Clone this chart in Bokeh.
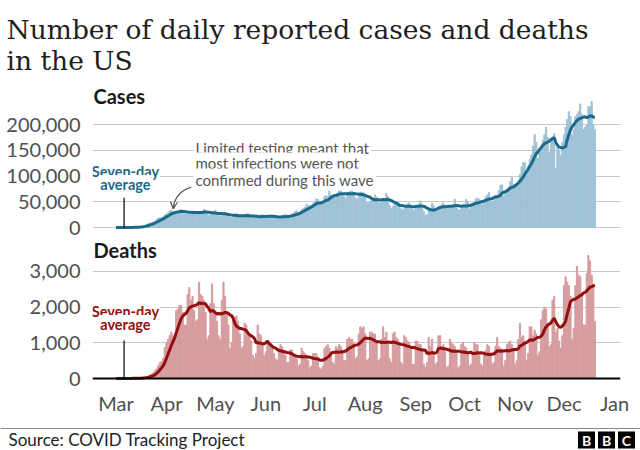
import pandas as pd
from bokeh.plotting import figure
from bokeh.layouts import column, row
from bokeh.models import (Range1d, FixedTicker, NumeralTickFormatter, Label, Span,
                          Arrow, OpenHead, ColumnDataSource, Title)
from bokeh.embed import file_html
from bokeh.resources import INLINE
from bokeh.core.properties import value

# ---------------- data (daily, 1 Mar 2020 -> 20 Dec 2020) ----------------
start_date = "2020-03-01"
cases_daily = [
    10, 15, 25, 40, 70, 100, 150,
    200, 250, 300, 450, 550, 750, 1000,
    1200, 1800, 2400, 3500, 4800, 6200, 7500,
    8800, 9800, 10500, 12000, 16500, 18000, 19500,
    19000, 21000, 24500, 26500, 28500, 32000, 34000,
    27000, 28500, 30500, 31500, 32500, 35000, 32000,
    27500, 25500, 27000, 29500, 30500, 32000, 31500,
    27000, 26000, 27500, 28500, 31500, 35500, 33500,
    26500, 23000, 24500, 27000, 29500, 33000, 29500,
    25000, 22500, 23500, 24000, 28500, 28500, 26000,
    20500, 18500, 21500, 21500, 27500, 25500, 25000,
    19500, 20500, 21000, 22500, 27000, 24500, 23000,
    19000, 19500, 18500, 20000, 21500, 24500, 25000,
    20000, 21000, 19500, 21500, 22000, 24500, 22500,
    17500, 17000, 19000, 21500, 23000, 24000, 25500,
    19000, 18500, 23000, 26000, 28000, 31500, 32500,
    26500, 27500, 34500, 37500, 39500, 45500, 43000,
    41000, 40000, 47000, 51000, 55500, 54500, 44500,
    45000, 46500, 60000, 62000, 59500, 71500, 63000,
    59000, 58500, 63000, 66500, 75500, 72000, 64000,
    61000, 56000, 64000, 69000, 72000, 72500, 66500,
    57500, 55000, 60000, 68000, 68500, 67500, 59500,
    48500, 47500, 50500, 53500, 53500, 63500, 59000,
    48500, 47000, 52000, 56500, 52000, 66000, 60000,
    42500, 36500, 40500, 44500, 45500, 48000, 46500,
    36500, 34000, 37000, 40500, 45500, 48000, 43500,
    35000, 33500, 40000, 42000, 46000, 51500, 43000,
    31000, 23500, 25000, 33000, 36000, 47000, 42000,
    34500, 34000, 39000, 39000, 44000, 48000, 43500,
    36000, 39000, 39500, 39000, 45000, 55000, 45000,
    35000, 33000, 37500, 43000, 45000, 54500, 49000,
    35000, 41500, 44000, 50000, 56000, 57000, 54500,
    46000, 44500, 52500, 59500, 63500, 68500, 56000,
    48500, 58000, 62000, 61000, 72000, 82000, 83000,
    61000, 67000, 73000, 78000, 89000, 97000, 84000,
    80000, 85000, 91000, 103000, 118000, 126000, 126000,
    110000, 118000, 132000, 141000, 158000, 180000, 165000,
    134000, 150000, 158000, 170000, 180000, 195000, 175000,
    145000, 170000, 175000, 182000, 115000, 155000, 150000,
    140000, 165000, 180000, 195000, 210000, 225000, 215000,
    180000, 190000, 215000, 220000, 225000, 240000, 220000,
    190000, 195000, 200000, 235000, 235000, 245000, 200000,
    190000,
]
deaths_daily = [
    0, 1, 3, 2, 1, 2, 4,
    3, 4, 5, 6, 8, 9, 10,
    12, 15, 25, 30, 45, 50, 70,
    100, 130, 160, 230, 270, 360, 450,
    470, 560, 870, 1000, 1100, 1200, 1300,
    1200, 1250, 1900, 1950, 2050, 2050, 1850,
    1500, 1500, 2350, 2550, 2200, 2300, 1900,
    1600, 1650, 2700, 2350, 2300, 2200, 1850,
    1100, 1200, 2100, 2650, 2100, 1900, 1600,
    1200, 1100, 2200, 2700, 2300, 1800, 1500,
    850, 1000, 1650, 1700, 1750, 1600, 1250,
    850, 900, 1550, 1500, 1300, 1250, 1050,
    650, 550, 700, 1500, 1250, 1200, 950,
    650, 750, 1050, 1000, 1000, 900, 700,
    550, 500, 850, 950, 900, 800, 650,
    450, 450, 800, 800, 700, 650, 550,
    350, 400, 850, 750, 700, 650, 500,
    300, 350, 700, 700, 700, 600, 300,
    250, 350, 850, 900, 950, 850, 750,
    450, 400, 900, 850, 950, 900, 800,
    500, 500, 1100, 1150, 1100, 1100, 1000,
    550, 600, 1250, 1450, 1400, 1450, 1250,
    500, 550, 1300, 1300, 1250, 1250, 1050,
    500, 550, 1100, 1450, 1150, 1300, 1050,
    550, 450, 1250, 1300, 1150, 1100, 1000,
    450, 400, 1200, 1150, 1050, 1000, 900,
    400, 400, 1050, 1050, 950, 950, 800,
    400, 300, 450, 1150, 900, 1100, 700,
    400, 450, 1200, 1200, 900, 950, 750,
    300, 350, 1100, 1000, 950, 900, 750,
    300, 350, 950, 1000, 900, 850, 700,
    350, 400, 700, 1000, 950, 950, 650,
    400, 350, 650, 800, 950, 900, 700,
    400, 450, 900, 1150, 900, 850, 800,
    350, 500, 950, 1000, 1050, 950, 850,
    400, 500, 1100, 1550, 1150, 1200, 1050,
    500, 700, 1450, 1450, 1200, 1350, 1250,
    650, 750, 1650, 1900, 2000, 1950, 1550,
    900, 950, 2200, 2300, 1300, 1400, 1050,
    850, 1200, 2600, 2850, 2700, 2600, 2300,
    1100, 1400, 2600, 3150, 2900, 2850, 2400,
    1500, 1500, 2950, 3450, 3300, 2900, 2600,
    1600,
]
month_starts = ["2020-03-01", "2020-04-01", "2020-05-01", "2020-06-01", "2020-07-01",
                "2020-08-01", "2020-09-01", "2020-10-01", "2020-11-01", "2020-12-01",
                "2021-01-01"]
month_labels = ["Mar", "Apr", "May", "Jun", "Jul", "Aug", "Sep", "Oct", "Nov", "Dec", "Jan"]
case_ticks = [0, 50000, 100000, 150000, 200000]
death_ticks = [0, 1000, 2000, 3000]

# ---------------- derived ----------------
t0 = pd.Timestamp(start_date)
day = list(range(len(cases_daily)))
cases_avg = pd.Series(cases_daily).rolling(7, min_periods=1).mean().tolist()
deaths_avg = pd.Series(deaths_daily).rolling(7, min_periods=1).mean().tolist()
month_pos = [(pd.Timestamp(m) - t0).days for m in month_starts]

src = ColumnDataSource(dict(day=day, cases=cases_daily, cavg=cases_avg,
                            deaths=deaths_daily, davg=deaths_avg))

SANS = "Lato"
GRID = "#c9c9c9"
TICK = "#505050"
C_BAR, C_LINE = "#9fc2d6", "#1b6a8b"
D_BAR, D_LINE = "#d69c9f", "#920f0f"
LEFT, RIGHT = 92, 20

xr = Range1d(-14.4, 309.7)


def base_fig(h, yr, top=0, bottom=0, xaxis=False):
    f = figure(width=640, height=h, x_range=xr, y_range=yr, title=None,
               output_backend="svg", toolbar_location=None,
               x_axis_location="below" if xaxis else None,
               min_border_left=LEFT, min_border_right=RIGHT,
               min_border_top=top, min_border_bottom=bottom)
    f.outline_line_color = None
    f.background_fill_color = "white"
    f.border_fill_color = "white"
    f.xgrid.visible = False
    return f


def style_y(f, ticks):
    tk = FixedTicker(ticks=ticks)
    f.yaxis.ticker = tk
    f.ygrid.ticker = tk
    f.yaxis.formatter = NumeralTickFormatter(format="0,0")
    f.yaxis.axis_line_color = None
    f.yaxis.major_tick_line_color = None
    f.yaxis.minor_tick_line_color = None
    f.yaxis.major_tick_out = 0
    f.yaxis.major_tick_in = 0
    f.yaxis.major_label_text_font = SANS
    f.yaxis.major_label_text_font_size = "20px"
    f.yaxis.major_label_text_color = TICK
    f.yaxis.major_label_standoff = 12
    f.ygrid.grid_line_color = GRID
    f.ygrid.grid_line_width = 1


# ---------------- cases (with the chart title in its top border) ----------------
CPX = 0.000515  # px per case
pc = base_fig(238, Range1d(-11.0 / CPX, 147.0 / CPX), top=80)
pc.add_layout(Title(text="Number of daily reported cases and deaths\nin the US",
                    align="left", offset=-86, standoff=10, vertical_align="bottom",
                    text_font="DejaVu Serif", text_font_size="26.5px",
                    text_font_style="normal", text_color="#1e1e1e",
                    text_line_height=1.0), "above")
style_y(pc, case_ticks)
pc.vbar(x="day", top="cases", width=0.72, source=src, color=C_BAR)
pc.line(x="day", y="cavg", source=src, line_color=C_LINE, line_width=3)
pc.add_layout(Label(x=-13.8, y=256000, text="Cases", text_font=SANS, text_font_style="bold",
                    text_font_size="20px", text_color="#1a1a1a", text_baseline="middle"))
for txt, yy in [("Seven-day", 108700), ("average", 83500)]:
    pc.add_layout(Label(x=5.8, y=yy, text=txt, text_font=SANS, text_font_style="bold",
                        text_font_size="14.5px", text_color=C_LINE, text_align="center",
                        text_baseline="middle", background_fill_color="white", padding=1))
pc.segment(x0=[5], y0=[0], x1=[5], y1=[58000], line_color="black", line_width=1.2)
for txt, yy in [("Limited testing meant that", 155300),
                ("most infections were not", 124300),
                ("confirmed during this wave", 93200)]:
    pc.add_layout(Label(x=47.6, y=yy, text=txt, text_font=SANS, text_font_size="15px",
                        text_color="#555555", text_align="left", text_baseline="middle",
                        background_fill_color="white", padding=2))
pc.bezier(x0=[46.2], y0=[78300], x1=[35.1], y1=[38000], cx0=[39.6], cy0=[71800],
          cx1=[35.9], cy1=[56300], line_color="#555555", line_width=1.2)
pc.add_layout(Arrow(end=OpenHead(size=7, line_color="#555555", line_width=1.2),
                    x_start=35.4, y_start=44000, x_end=35.1, y_end=36300,
                    line_color="#555555", line_width=1.2))

# ---------------- deaths ----------------
DPX = 0.035667  # px per death
pdth = base_fig(182, Range1d(-3.0 / DPX, 140.0 / DPX), bottom=39, xaxis=True)
style_y(pdth, death_ticks)
pdth.vbar(x="day", top="deaths", width=0.72, source=src, color=D_BAR)
pdth.add_layout(Span(location=0, dimension="width", line_color="black", line_width=2))
pdth.line(x="day", y="davg", source=src, line_color=D_LINE, line_width=3)
pdth.add_layout(Label(x=-13.8, y=3590, text="Deaths", text_font=SANS, text_font_style="bold",
                      text_font_size="20px", text_color="#1a1a1a", text_baseline="middle"))
for txt, yy in [("Seven-day", 1878), ("average", 1514)]:
    pdth.add_layout(Label(x=5.8, y=yy, text=txt, text_font=SANS, text_font_style="bold",
                          text_font_size="14.5px", text_color=D_LINE, text_align="center",
                          text_baseline="middle", background_fill_color="white", padding=1))
pdth.segment(x0=[5], y0=[0], x1=[5], y1=[1065], line_color="black", line_width=1.2)
pdth.xaxis.ticker = FixedTicker(ticks=month_pos)
pdth.xaxis.major_label_overrides = {p: l for p, l in zip(month_pos, month_labels)}
pdth.xaxis.axis_line_color = None
pdth.xaxis.major_tick_line_color = None
pdth.xaxis.minor_tick_line_color = None
pdth.xaxis.major_tick_out = 0
pdth.xaxis.major_tick_in = 0
pdth.xaxis.major_label_text_font = SANS
pdth.xaxis.major_label_text_font_size = "20px"
pdth.xaxis.major_label_text_color = TICK
pdth.xaxis.major_label_standoff = 9

# ---------------- footer (page-pixel coordinates) ----------------
pf = figure(width=640, height=30, x_range=Range1d(0, 640), y_range=Range1d(30, 0),
            output_backend="svg", toolbar_location=None, title=None,
            x_axis_location=None, y_axis_location=None, min_border=0,
            min_border_left=0, min_border_right=0, min_border_top=0, min_border_bottom=0)
pf.outline_line_color = None
pf.grid.visible = False
pf.segment(x0=[0], y0=[8], x1=[640], y1=[8], line_color="#8a8a8a", line_width=1)
pf.text(x=[8], y=[19], text=["Source: COVID Tracking Project"], text_font=value(SANS),
        text_font_size="17px", text_color="#222222", text_baseline="middle")
pf.rect(x=[586, 606, 626], y=[19.5, 19.5, 19.5], width=17, height=17, fill_color="black",
        line_color=None)
pf.text(x=[586, 606, 626], y=[20, 20, 20], text=["B", "B", "C"], text_font=value(SANS),
        text_font_style="bold", text_font_size="14px", text_color="white",
        text_align="center", text_baseline="middle")

layout = column(pc, pdth, row(pf, spacing=0), spacing=0)
open("out.html", "w").write(file_html(layout, INLINE))
